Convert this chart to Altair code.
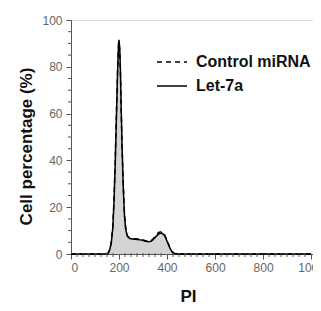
import altair as alt
import pandas as pd

# PI values (x) and cell percentage for two samples
pi = [0, 50, 100, 140, 155, 162, 168, 174, 179, 184, 189, 194, 198, 200, 203, 206, 209,
      213, 218, 223, 228, 235, 245, 260, 280, 300, 320, 335, 350, 365, 378, 390, 400,
      410, 420, 430, 450, 600, 800, 1000]
let7a = [0, 0, 0, 0, 0.3, 2, 5, 11, 22, 38, 58, 78, 90, 91.5, 88, 78, 63,
         45, 28, 16, 10.5, 7.5, 6.6, 6.3, 6.2, 5.8, 5.2, 5.5, 7, 8.6, 9, 7.8, 5.5,
         3, 1, 0.2, 0, 0, 0, 0]
control = [0, 0, 0, 0, 0.3, 2.2, 5.3, 11.5, 23, 39, 59, 78, 89, 90.5, 87, 77, 62,
           45, 28.5, 16.5, 11, 7.8, 6.8, 6.5, 6.4, 6.0, 5.4, 5.8, 7.4, 9.2, 9.6, 8.2, 5.8,
           3.2, 1.1, 0.2, 0, 0, 0, 0]

x_major = [0, 200, 400, 600, 800, 1000]
y_major = [0, 20, 40, 60, 80, 100]
x_minor = [v for v in range(0, 1001, 25) if v % 200 != 0]
y_minor = [v for v in range(0, 101, 5) if v % 20 != 0]

series_names = ["Control miRNA", "Let-7a"]

df = pd.DataFrame({"pi": pi * 2,
                   "pct": control + let7a,
                   "series": [series_names[0]] * len(pi) + [series_names[1]] * len(pi)})
df_area = pd.DataFrame({"pi": pi, "pct": let7a})

W, H = 242, 234
xscale = alt.Scale(domain=[0, 1008], nice=False)
yscale = alt.Scale(domain=[0, 100], nice=False)

xax = alt.Axis(values=x_major, format="d", title="PI", grid=False, tickSize=5, labelFontSize=12,
               labelColor="#666", labelFont="Liberation Sans", titleFont="Liberation Sans",
               titleFontSize=17, titleFontWeight="bold", titleColor="#111", titlePadding=15,
               domainColor="#555", tickColor="#555", labelPadding=3, titleX=117)
yax = alt.Axis(values=y_major, title="Cell percentage (%)", grid=False, tickSize=5,
               labelFontSize=12, labelColor="#666", labelFont="Liberation Sans",
               titleFont="Liberation Sans", titleFontSize=17, titleFontWeight="bold",
               titleColor="#111", titlePadding=6, domainColor="#555", tickColor="#555",
               labelPadding=4, titleY=126)

area = alt.Chart(df_area).mark_area(color="#d4d4d4", opacity=1).encode(
    x=alt.X("pi:Q", scale=xscale, axis=xax),
    y=alt.Y("pct:Q", scale=yscale, axis=yax),
)

lines = alt.Chart(df).mark_line(color="black", strokeWidth=1.5).encode(
    x=alt.X("pi:Q", scale=xscale),
    y=alt.Y("pct:Q", scale=yscale),
    strokeDash=alt.StrokeDash(
        "series:N",
        scale=alt.Scale(domain=series_names, range=[[5, 4], [1, 0]]),
        legend=alt.Legend(title=None, orient="none", legendX=85, legendY=26,
                          symbolType="stroke", symbolSize=900, symbolStrokeWidth=1.5,
                          symbolStrokeColor="black", labelFont="Liberation Sans",
                          labelFontSize=16, labelFontWeight="bold", labelColor="#111",
                          labelOffset=8, rowPadding=0, symbolOffset=0),
    ),
    order="pi:Q",
)

xminor = alt.Chart(pd.DataFrame({"v": x_minor})).mark_rule(color="#555").encode(
    x=alt.X("v:Q", scale=xscale), y=alt.value(H - 1), y2=alt.value(H + 3))
yminor = alt.Chart(pd.DataFrame({"v": y_minor})).mark_rule(color="#555").encode(
    y=alt.Y("v:Q", scale=yscale), x=alt.value(0), x2=alt.value(-3))

chart = alt.layer(area, lines, xminor, yminor).properties(
    width=W, height=H,
    autosize=alt.AutoSizeParams(type="none"),
    padding={"left": 63, "top": 12, "right": 0, "bottom": 50},
).configure_view(stroke="#444", strokeWidth=1.2).configure(background="white")

chart.save("out.html", embed_options={"renderer": "svg", "actions": False})
